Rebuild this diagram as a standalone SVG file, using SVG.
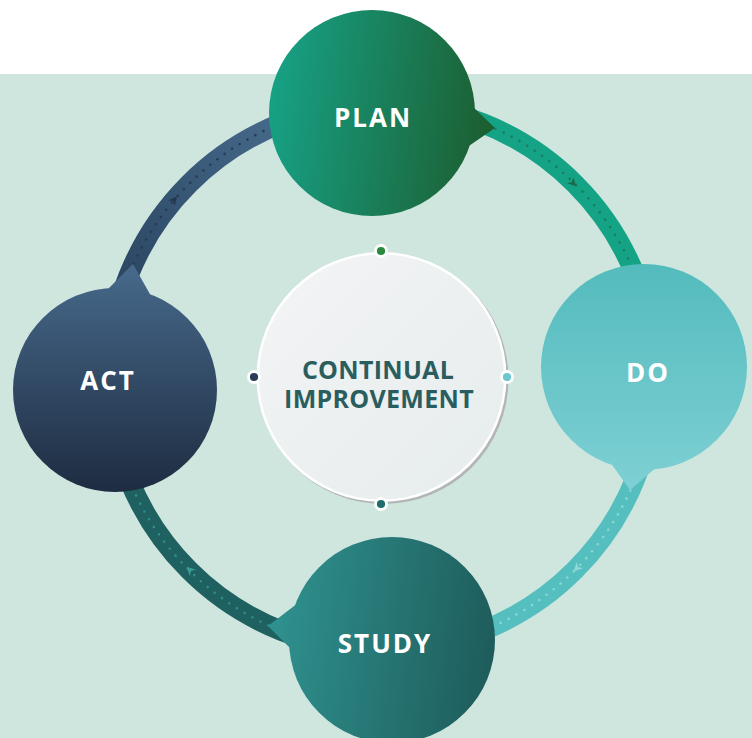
<svg xmlns="http://www.w3.org/2000/svg" width="752" height="738" viewBox="0 0 752 738">
  <defs>
    <style>
      .label { font-family: "Open Sans", "Liberation Sans", sans-serif; font-weight: 700; fill: #ffffff; font-size: 26px; letter-spacing: 2px; text-anchor: middle; }
      .center-text { font-family: "Open Sans", "Liberation Sans", sans-serif; font-weight: 700; fill: #2a5e5e; font-size: 25px; letter-spacing: 0.3px; text-anchor: middle; }
      .band { fill: none; stroke-width: 20; }
      .dots { fill: none; stroke-width: 2.6; stroke-linecap: round; stroke-dasharray: 0 9; }
      .port { stroke: #ffffff; stroke-width: 2.8; }
    </style>
    <linearGradient id="gPlan" gradientUnits="userSpaceOnUse" x1="269" y1="100" x2="495" y2="130">
      <stop offset="0" stop-color="#17a185"/>
      <stop offset="1" stop-color="#1c5d2f"/>
    </linearGradient>
    <linearGradient id="gDo" gradientUnits="userSpaceOnUse" x1="0" y1="264" x2="0" y2="490">
      <stop offset="0" stop-color="#54bbbd"/>
      <stop offset="1" stop-color="#7ed0d4"/>
    </linearGradient>
    <linearGradient id="gStudy" gradientUnits="userSpaceOnUse" x1="268" y1="620" x2="495" y2="650">
      <stop offset="0" stop-color="#2f928f"/>
      <stop offset="1" stop-color="#1e5c5b"/>
    </linearGradient>
    <linearGradient id="gAct" gradientUnits="userSpaceOnUse" x1="0" y1="264" x2="0" y2="492">
      <stop offset="0" stop-color="#476a8c"/>
      <stop offset="1" stop-color="#1e2c41"/>
    </linearGradient>
    <linearGradient id="gArcTL" gradientUnits="userSpaceOnUse" x1="120" y1="290" x2="280" y2="115">
      <stop offset="0" stop-color="#2a4561"/>
      <stop offset="1" stop-color="#46698b"/>
    </linearGradient>
    <linearGradient id="gCenter" x1="0" y1="0" x2="1" y2="1">
      <stop offset="0" stop-color="#f3f4f5"/>
      <stop offset="1" stop-color="#e6eced"/>
    </linearGradient>
    <path id="arrowHead" d="M4.5,0 L-4,-4.5 L-1.5,0 L-4,4.5 Z"/>
  </defs>

  <rect x="0" y="0" width="752" height="738" fill="#ffffff"/>
  <rect x="0" y="74" width="752" height="664" fill="#cfe6df"/>

  <g id="connectors">
    <g id="arc-act-plan">
      <path class="band" stroke="url(#gArcTL)" d="M109,377 A273,273 0 0 1 382,104"/>
      <path class="dots" stroke="#263b55" d="M109,377 A273,273 0 0 1 382,104"/>
      <use href="#arrowHead" fill="#243850" transform="translate(174,200) rotate(-50)"/>
    </g>
    <g id="arc-plan-do">
      <path class="band" stroke="#15a386" d="M382,104 A273,273 0 0 1 655,377"/>
      <path class="dots" stroke="#1a7b5f" d="M382,104 A273,273 0 0 1 655,377"/>
      <use href="#arrowHead" fill="#1b6a4c" transform="translate(573,183) rotate(45)"/>
    </g>
    <g id="arc-do-study">
      <path class="band" stroke="#55bfbf" d="M655,377 A273,273 0 0 1 382,650"/>
      <path class="dots" stroke="#8ad7d6" d="M655,377 A273,273 0 0 1 382,650"/>
      <use href="#arrowHead" fill="#90d9d8" transform="translate(577,568) rotate(134)"/>
    </g>
    <g id="arc-study-act">
      <path class="band" stroke="#1f6160" d="M382,650 A273,273 0 0 1 109,377"/>
      <path class="dots" stroke="#2e8e8a" d="M382,650 A273,273 0 0 1 109,377"/>
      <use href="#arrowHead" fill="#3a9c98" transform="translate(190,570) rotate(225)"/>
    </g>
  </g>

  <g id="node-plan">
    <circle cx="372" cy="113" r="103" fill="url(#gPlan)"/>
    <polygon points="470,104 495,128 463,150" fill="url(#gPlan)"/>
    <text class="label" x="373" y="127">PLAN</text>
  </g>

  <g id="node-do">
    <circle cx="644" cy="367" r="103" fill="url(#gDo)"/>
    <polygon points="610,462 630,490 658,466" fill="url(#gDo)"/>
    <text class="label" x="648" y="382">DO</text>
  </g>

  <g id="node-study">
    <circle cx="392" cy="640" r="103" fill="url(#gStudy)"/>
    <polygon points="298,603 268,626 292,650" fill="url(#gStudy)"/>
    <text class="label" x="385" y="653">STUDY</text>
  </g>

  <g id="node-act">
    <circle cx="115" cy="390" r="102" fill="url(#gAct)"/>
    <polygon points="106,291 133,264 151,296" fill="url(#gAct)"/>
    <text class="label" x="108" y="390">ACT</text>
  </g>

  <g id="node-center">
    <circle cx="383.5" cy="379" r="125" fill="#b3b5b6"/>
    <circle cx="381.5" cy="377" r="125" fill="#ffffff"/>
    <circle cx="381.5" cy="377" r="122.5" fill="url(#gCenter)"/>
    <text class="center-text" x="378" y="379">CONTINUAL</text>
    <text class="center-text" x="379" y="408">IMPROVEMENT</text>
    <circle class="port" cx="381" cy="251" r="5.5" fill="#2a8a3f"/>
    <circle class="port" cx="507" cy="377" r="5.5" fill="#6cc8cc"/>
    <circle class="port" cx="381" cy="504" r="5.5" fill="#1f6e6c"/>
    <circle class="port" cx="254" cy="377" r="5.5" fill="#2a3c58"/>
  </g>
</svg>
